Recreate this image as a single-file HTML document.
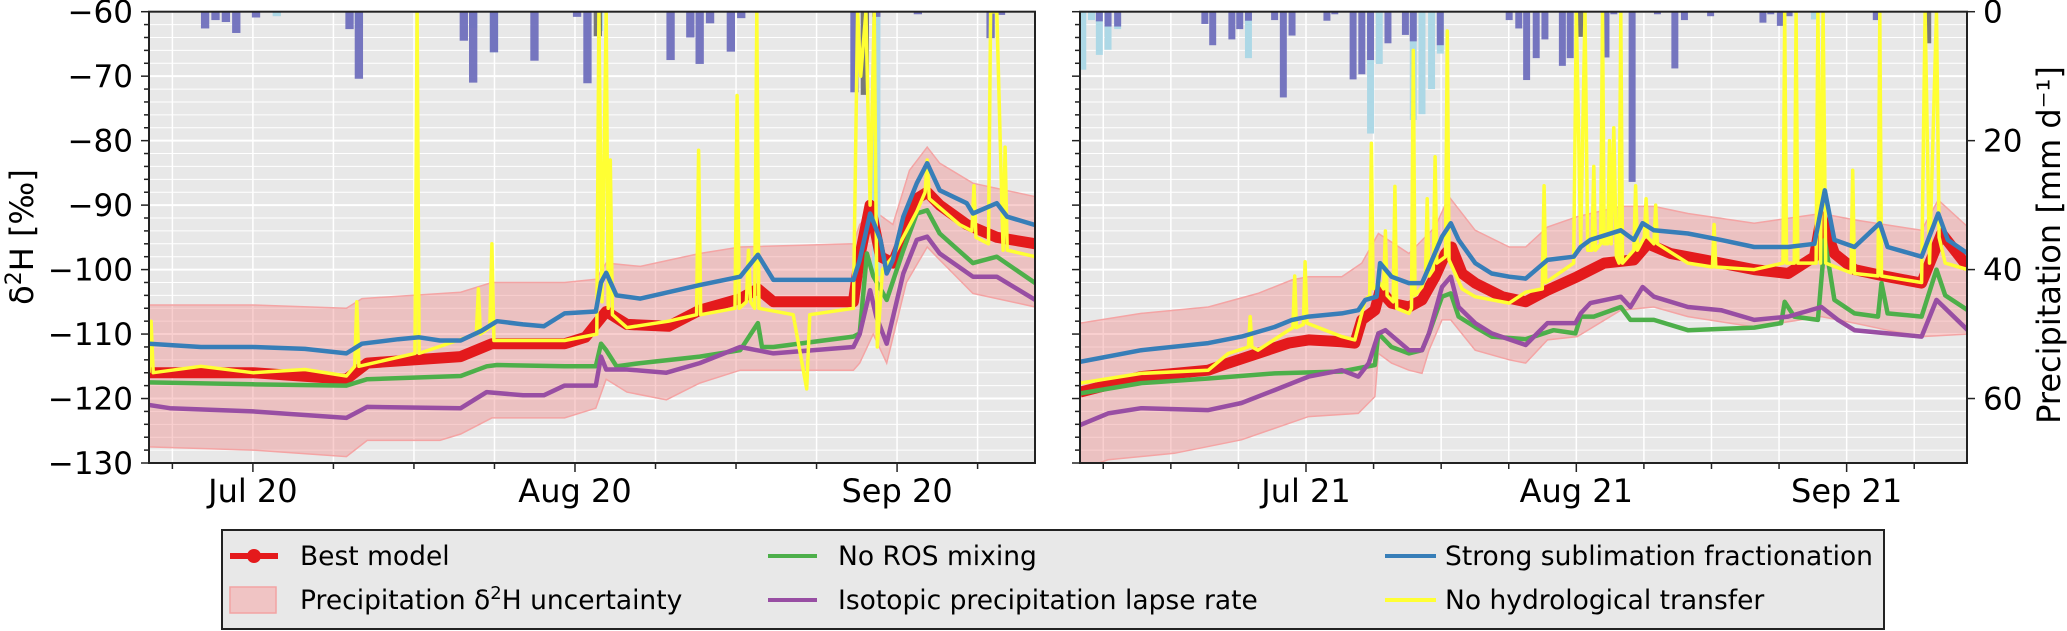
<!DOCTYPE html>
<html><head><meta charset="utf-8">
<style>
html,body{margin:0;padding:0;background:#fff;}
svg{display:block;font-family:"DejaVu Sans","Liberation Sans",sans-serif;}
</style></head>
<body>
<svg id="chart" xmlns="http://www.w3.org/2000/svg" width="2067" height="631" viewBox="0 0 2067 631">
<defs>
<clipPath id="clipL"><rect x="149" y="11.7" width="886" height="451.3"/></clipPath>
<clipPath id="clipR"><rect x="1080" y="11.7" width="887" height="451.3"/></clipPath>
</defs>
<g id="panelL"></g>
<g id="panelR"></g>
<text transform="translate(33,237) rotate(-90)" text-anchor="middle" font-size="32">δ<tspan baseline-shift="super" font-size="22">2</tspan>H [‰]</text>
<text transform="translate(2060,245) rotate(-90)" text-anchor="middle" font-size="32">Precipitation [mm d⁻¹]</text>
<g>
<rect x="222" y="530" width="1662" height="99" fill="#e8e8e8" stroke="#222" stroke-width="2"/>
<g>
<line x1="230" y1="556" x2="278" y2="556" stroke="#e41a1c" stroke-width="6"/><circle cx="254" cy="556" r="7" fill="#e41a1c"/>
<text x="300" y="565" font-size="26.5">Best model</text></g>
<g>
<rect x="230" y="587" width="46" height="26" fill="#f0c4c4" stroke="#f2a3a3" stroke-width="1.5"/>
<text x="300" y="609" font-size="26.5">Precipitation δ<tspan baseline-shift="super" font-size="18">2</tspan>H uncertainty</text></g>
<g>
<line x1="768" y1="556" x2="817" y2="556" stroke="#4daf4a" stroke-width="4"/>
<text x="838" y="565" font-size="26.5">No ROS mixing</text></g>
<g>
<line x1="768" y1="600" x2="817" y2="600" stroke="#984ea3" stroke-width="4"/>
<text x="838" y="609" font-size="26.5">Isotopic precipitation lapse rate</text></g>
<g>
<line x1="1385" y1="556" x2="1436" y2="556" stroke="#377eb8" stroke-width="4"/>
<text x="1445" y="565" font-size="26.5">Strong sublimation fractionation</text></g>
<g>
<line x1="1385" y1="600" x2="1436" y2="600" stroke="#ffff33" stroke-width="4"/>
<text x="1445" y="609" font-size="26.5">No hydrological transfer</text></g>
</g>
</svg>
<script>
// ---- data: left panel (days since 2020-06-21), values in permil ----
const yTicks = [-60,-70,-80,-90,-100,-110,-120,-130];
const pTicks = [0,20,40,60];
const leftMonthDays = [10,41,72];
const leftMonthLabels = ["Jul 20","Aug 20","Sep 20"];
const rightMonthDays = [30,61,92];
const rightMonthLabels = ["Jul 21","Aug 21","Sep 21"];

const leftUpper = [[0,-105.5],[10,-105.5],[19,-106],[20.5,-104.5],[30,-103.5],[33,-102],[40,-102],[43,-101.5],[44,-99],[47.3,-99.5],[53,-97.5],[56.9,-96.5],[67.8,-96],[68.4,-93],[69.7,-90.8],[71.6,-93],[73.2,-84.6],[74.9,-81],[76.1,-83.5],[79.3,-86.6],[85.3,-88.7]];
const leftLower = [[0,-127.5],[10,-128],[19,-129],[21,-126.5],[28,-126.5],[30,-125.5],[33,-123],[40,-123],[43,-121.5],[44,-117],[46,-119],[49.8,-120.2],[53,-117.6],[56.9,-115.6],[67.8,-115.6],[68.4,-114.5],[69.7,-110],[71,-114.5],[72.9,-102],[74.9,-96.5],[76.1,-98.5],[79.3,-103.7],[85.3,-105.8]];
const leftBest = [[0,-116],[10,-116],[19,-117],[21,-114.5],[30,-113.5],[33,-111.5],[40,-111.5],[42,-110.5],[44,-106.5],[46,-108.5],[50,-108.8],[53,-106.3],[56.9,-104.5],[58.6,-103],[60.1,-105],[67.8,-105],[68.4,-98],[69.4,-90],[70.4,-98],[71.6,-99],[72.6,-95],[73.9,-89],[74.9,-88],[76.1,-90],[78.7,-93],[81.6,-95],[85.3,-96]];
const leftNoRos = [[0,-117.5],[10,-117.8],[19,-118],[21,-117],[30,-116.5],[32.5,-115],[33.5,-114.8],[40,-115],[43,-115],[43.5,-111.5],[44,-112.5],[45,-115],[47.3,-114.5],[53,-113.5],[56.9,-112.5],[58.6,-108.3],[59,-112],[60.1,-112],[67.8,-110.4],[68.4,-109.9],[69.1,-97.5],[69.7,-101],[71,-104.7],[72.6,-97],[73.9,-91.3],[74.9,-90.8],[76.1,-94.4],[79.3,-99],[81.6,-98],[85.3,-102.1]];
const leftLapse = [[0,-121],[2,-121.5],[10,-122],[19,-123],[21,-121.3],[30,-121.5],[32.5,-119],[36,-119.5],[38,-119.5],[40,-118],[43,-118],[43.5,-113.5],[44,-115.5],[46,-115.5],[49.8,-116],[53,-114.5],[56.9,-112],[60.1,-113],[67.8,-112],[68.4,-110],[69.4,-103.2],[70,-107.3],[71,-111.5],[72.6,-100.6],[73.9,-95.4],[74.9,-94.9],[76.1,-97.5],[79.3,-101.1],[81.6,-101.1],[85.3,-104.7]];
const leftSublim = [[0,-111.5],[5,-112],[10,-112],[15,-112.3],[19,-113],[20.5,-111.5],[24,-110.8],[26,-110.5],[28,-111],[30,-111],[32,-109.5],[33.5,-108],[36,-108.5],[38,-108.8],[40,-106.8],[43,-106.5],[43.5,-102],[44,-100.5],[45,-104],[47.3,-104.5],[53,-102.4],[56.9,-101.1],[58.6,-97.7],[60.1,-101.6],[67.8,-101.6],[68.4,-98.5],[69.4,-91.3],[70.4,-95.4],[71,-100.6],[71.6,-98.5],[72.6,-91.8],[73.9,-86.6],[74.9,-83.5],[76.1,-87.7],[78.7,-89.7],[79.3,-91.3],[81.6,-89.7],[82.6,-91.8],[85.3,-93.1]];
const leftNoTransfer = [[0,-116],[0.2,-108],[0.4,-116],[5,-115],[10,-116],[15,-115.5],[19,-116.5],[19.8,-115],[20,-105],[20.2,-115],[25.6,-113],[25.8,-60],[26,-113],[31.5,-110],[31.7,-103],[31.9,-110],[32.8,-109],[33,-96],[33.2,-111],[40,-111],[43.1,-110],[43.3,-60],[43.6,-105],[44,-60],[44.2,-106],[44.4,-83],[44.6,-107],[46,-109],[50,-108],[52.7,-107],[52.9,-81.5],[53.1,-107],[56.4,-106],[56.6,-73],[56.8,-106],[57.5,-105],[57.7,-97],[57.9,-105],[58.3,-106],[58.5,-60],[58.7,-106],[62,-107],[63.3,-118.5],[63.6,-107],[67.8,-106],[68.2,-60],[68.5,-70],[69,-60],[69.4,-90],[69.8,-60],[70.1,-112],[70.6,-100],[71.6,-98],[73.9,-91],[74.7,-88],[74.9,-83],[75.1,-89],[78,-93],[79.2,-94],[79.4,-87],[79.6,-95],[80.8,-96],[81,-60],[81.6,-60],[82.2,-97],[82.4,-81],[82.6,-97],[85.3,-98]];
const leftPrecip = [[5.4,2.6],[6.4,1.3],[7.4,1.6],[8.4,3.3],[10.3,0.9],[19.3,2.7],[20.2,10.4],[30.3,4.5],[31.2,11],[33.2,6.3],[37.1,7.6],[41.2,0.8],[42.2,11.1],[50.2,7.5],[52.1,4],[53,8.1],[54,1.8],[56,6.2],[57,1],[67.9,12.5],[70,0.8],[74,0.4],[81,4.1],[82,0.5]];
const leftSnow = [[12.3,0.7],[20.2,2.5],[31.2,2.5],[33.2,6.3],[43.3,3],[70,41]];
const leftMixed = [[43.2,3.8],[68.9,12.9]];

// ---- data: right panel (days since 2021-06-01) ----
const rightUpper = [[4.1,-108.3],[11.1,-106.8],[18.8,-105.8],[24.5,-103.7],[28.4,-101.6],[30.3,-101.1],[34.1,-101.1],[36.4,-99],[38.3,-94.4],[41.8,-97.5],[44.8,-93.4],[46.4,-88.7],[49.4,-93.9],[53.3,-96.5],[55.2,-96.5],[57.7,-93.4],[61.1,-91.8],[66.1,-90.2],[69.9,-90.2],[73.8,-91.3],[81.4,-92.8],[89.1,-91.3],[92.9,-92.3],[100.6,-93.9],[102.5,-89.2],[105.9,-93.4]];
const rightLower = [[4.1,-131],[7.3,-129.5],[14.9,-128.5],[22.6,-126.4],[30.3,-122.8],[36,-122.3],[37.9,-119.7],[38.3,-113],[39.8,-114.5],[41.8,-115.6],[43.3,-116.1],[44.1,-112.5],[45.6,-107.8],[46.6,-107.8],[49.4,-112.5],[53.3,-114],[55.2,-114.5],[57.7,-110.9],[61.1,-110.4],[66.1,-106.3],[69.9,-105.8],[73.8,-107.3],[81.4,-108.9],[89.1,-107.3],[92.9,-108.3],[96.7,-109.4],[100.6,-110.4],[105.9,-110]];
const rightBest = [[4.1,-119],[11.1,-116.6],[18.8,-115.6],[21.1,-114.5],[24.5,-113],[28,-111.4],[30.3,-110.9],[34.1,-111.2],[35.6,-111.4],[36.4,-107.8],[37.9,-106.3],[38.5,-103.2],[39.8,-105.2],[41.8,-105.8],[43.3,-104.7],[44.8,-101.1],[46,-97.5],[46.7,-96.5],[47.9,-100.6],[49.4,-102.1],[52.5,-104.2],[55.2,-105],[57.7,-103.2],[61.1,-101.1],[64.2,-99],[67.6,-98.5],[69.2,-96],[71.8,-97.5],[75.7,-98.5],[81.4,-100],[85.3,-100.6],[88.3,-98],[89.1,-91.8],[90.6,-97.5],[92.9,-100],[96.7,-101.1],[100.6,-102.1],[102.9,-94.4],[105.9,-99.6]];
const rightNoRos = [[4.1,-119.2],[11.1,-117.6],[18.8,-116.9],[26.4,-116.1],[34.1,-115.8],[37.9,-114.8],[38.3,-109.9],[39.8,-112],[41.8,-113],[43.3,-112.5],[44.1,-109.9],[45.6,-104.2],[46.6,-103.7],[47.5,-107.3],[49.4,-108.9],[51.3,-110.4],[55.2,-110.8],[58.4,-109.4],[60.9,-109.9],[61.5,-107.3],[63,-107.3],[66.1,-105.8],[67.2,-107.8],[69.9,-107.8],[73.8,-109.4],[77.6,-109.2],[81.4,-109],[84.5,-108.3],[84.9,-105],[86,-107.3],[88.7,-107.8],[89.5,-95.4],[90.6,-104.7],[92.9,-106.8],[95.6,-107.3],[96,-102.1],[96.7,-106.8],[100.6,-107.3],[102.3,-100],[103.3,-104],[105.9,-106.3]];
const rightLapse = [[4.1,-124.1],[7.3,-122.3],[11.1,-121.5],[18.8,-121.8],[22.6,-120.7],[26.4,-118.7],[30.3,-116.6],[34.1,-115.6],[36,-116.6],[37.2,-114.5],[38.3,-109.9],[39.1,-109.4],[41.8,-112.5],[43.3,-112.5],[44.1,-109.9],[45.6,-102.7],[46.6,-101.1],[47.5,-105.8],[49.4,-108.3],[51.3,-109.9],[55.2,-111.7],[57.7,-108.3],[60.9,-108.3],[61.5,-106.8],[62.6,-105.2],[66.1,-104.2],[67.2,-105.8],[68.6,-102.7],[69.9,-104.2],[73.8,-105.8],[77.6,-106.3],[81.4,-107.8],[85.3,-107.3],[89.1,-105.8],[91,-107.8],[92.9,-109.4],[96.7,-109.9],[100.6,-110.4],[102.3,-104.7],[105.9,-109.4]];
const rightSublim = [[4.1,-114.3],[11.1,-112.5],[18.8,-111.4],[22.6,-110.4],[26.4,-108.9],[28.4,-107.8],[30.3,-107.3],[34.1,-106.8],[36,-106.3],[36.8,-104.7],[38.1,-104.2],[38.5,-99],[39.8,-101.1],[41.8,-102.1],[43.3,-102.1],[44.1,-99.6],[45.6,-94.9],[46.6,-92.8],[47.5,-95.4],[49.4,-99],[51.3,-100.6],[53.3,-101.1],[55.2,-101.4],[57.7,-98.5],[60.7,-98],[61.5,-96.5],[62.6,-95.4],[66.1,-93.9],[67.6,-95.4],[68.6,-92.8],[69.9,-93.9],[73.8,-94.4],[77.6,-95.4],[81.4,-96.5],[85.3,-96.5],[88.3,-96],[89.5,-87.7],[90.6,-95.4],[92.9,-96.5],[95.8,-92.8],[96.7,-96.5],[100.6,-98],[102.5,-91.3],[103.6,-95.4],[105.9,-97.5]];
const rightNoTransfer = [[4.1,-117.6],[11.1,-116.1],[18.8,-115.6],[21.1,-113],[23.4,-112],[23.6,-107.3],[23.8,-112],[24.5,-112.5],[28,-109.4],[28.5,-109],[28.7,-101],[28.9,-109],[29.7,-108.5],[29.9,-98.8],[30.1,-108.3],[34.1,-110.4],[35.6,-110.9],[36.8,-104.7],[37.3,-104],[37.5,-80.4],[37.7,-103],[38.5,-102.1],[38.9,-103],[39.1,-94],[39.3,-104],[40,-105],[40.2,-87.1],[40.4,-106],[41.8,-106.8],[42.1,-106],[42.3,-66],[42.5,-104],[43.3,-102.7],[43.7,-101],[43.9,-89],[44.1,-101],[44.6,-100],[44.8,-82.5],[45,-99],[46,-98],[46.2,-63],[46.4,-98.5],[47.9,-103],[49.4,-104.2],[53.3,-105.2],[55.2,-103.5],[57.1,-103],[57.3,-87],[57.5,-102],[60.7,-99],[61,-60],[61.5,-96],[62,-60],[62.3,-97],[62.8,-97],[63,-84],[63.2,-97],[63.8,-96],[64,-60],[64.2,-96],[64.6,-96],[64.8,-80],[65,-96],[65.3,-78],[65.6,-98],[65.9,-99],[66.1,-60],[66.3,-99],[67.6,-97],[67.8,-87],[68,-97],[68.8,-95],[69,-89],[69.2,-95],[69.9,-96],[70.1,-90],[70.3,-96],[73.8,-99],[76.6,-99.6],[76.8,-93],[77,-99.6],[81.4,-100],[84.7,-99],[84.9,-60],[85.1,-99],[86,-99],[86.2,-60],[86.4,-99],[88.5,-99],[88.7,-60],[89,-99],[89.3,-60],[89.6,-99],[92.5,-100.5],[92.7,-84.6],[92.9,-100.6],[95.6,-101],[95.8,-60],[96,-101],[100.6,-102],[101,-60],[101.5,-99],[102.3,-60],[102.6,-95],[103.3,-99],[105.9,-100]];
const rightPrecip = [[6.3,1.5],[7.3,2.3],[8.4,2.3],[18.4,1.9],[19.3,5.2],[21.5,4.3],[22.4,2.7],[23.4,1.4],[26.4,1.3],[27.4,13.3],[28.4,3.7],[32.4,1.4],[33.3,0.4],[35.4,10.5],[36.4,9.7],[37.4,7.5],[39.4,4.9],[41.4,3.6],[42.3,4.6],[45.4,5.2],[53.3,1.3],[54.4,2.6],[55.3,10.6],[56.4,7.2],[57.4,4.3],[59.4,8.4],[60.3,7.2],[64.4,7.1],[65.3,0.4],[67.4,26.4],[70.3,0.4],[72.3,8.8],[73.4,1.3],[76.4,0.7],[82.4,1.7],[83.3,0.4],[84.4,2.2],[85.4,0.7],[95.4,1.3]];
const rightSnow = [[4.4,9],[5.4,1.3],[6.3,6.7],[7.3,5.9],[8.4,2.7],[23.4,7.2],[37.4,18.9],[38.4,8.1],[42.3,16.8],[43.3,15.9],[44.4,12],[45.4,6.5],[88.3,1.2]];
const rightMixed = [[61.4,3.9],[101.3,4.9]];

// ---- axes ----
const Y0 = 11.7, Y1 = 463;
function yV(v){ return Y0 + (-60 - v) * (Y1 - Y0) / 70; }
function yP(mm){ return Y0 + mm * (Y1 - Y0) / 70; }
function xL(d){ return 149 + d * 10.39; }
function xR(d){ return 1306 + (d - 30) * 8.72; }
const NS = "http://www.w3.org/2000/svg";
function mk(tag, attrs, parent){
  const e = document.createElementNS(NS, tag);
  for (const k in attrs) e.setAttribute(k, attrs[k]);
  parent.appendChild(e);
  return e;
}
function pts(arr, xf){ return arr.map(p => xf(p[0]).toFixed(1) + "," + yV(p[1]).toFixed(1)).join(" "); }

function drawPanel(g, xf, x0, x1, clip, data, monthDays, monthLabels, showYLabels, showPrecipAxis){
  const bg = mk("rect", {x:x0, y:Y0, width:x1-x0, height:Y1-Y0, fill:"#e8e8e8"}, g);
  
  
  const grid = mk("g", {}, g);
  
  
  for (let v = -60; v >= -130; v -= 2){
    mk("line", {x1:x0, x2:x1, y1:yV(v), y2:yV(v), stroke:"#fff", "stroke-width": (v % 10 === 0) ? 2 : 1}, grid);
  }
  const vticks = [];
  monthDays.forEach(md => { vticks.push([md, true]); for (let k = 1; k <= 3; k++) vticks.push([md + k * 7.75, false]); });
  for (let k = 1; k <= 3; k++) vticks.push([monthDays[0] - k * 7.75, false]);
  vticks.forEach(t => {
    const x = xf(t[0]);
    if (x > x0 && x < x1) {
      mk("line", {x1:x, x2:x, y1:Y0, y2:Y1, stroke:"#fff", "stroke-width":1.5}, grid);
      mk("line", {x1:x, x2:x, y1:Y1, y2:Y1 + (t[1] ? 9 : 6), stroke:"#222", "stroke-width":1.5}, g);
    }
  });
  const plot = mk("g", {"clip-path":"url(#" + clip + ")"}, g);
  const band = mk("polygon", {points: pts(data.upper, xf) + " " + pts(data.lower.slice().reverse(), xf), fill:"rgba(240,128,128,0.38)", stroke:"#f4a4a4", "stroke-width":1.5}, plot);
  
  
  const bars = mk("g", {}, plot);
  
  
  const bw = (xf(1) - xf(0)) * 0.8;
  data.snow.forEach(b => {
    const r = mk("rect", {x:xf(b[0]) - bw/2, y:Y0, width:bw, height:yP(b[1]) - Y0, fill:"#add8e6"}, bars);
    
    
  });
  data.precip.forEach(b => {
    const r = mk("rect", {x:xf(b[0]) - bw/2, y:Y0, width:bw, height:yP(b[1]) - Y0, fill:"#6f6fbd", "fill-opacity":0.95}, bars);
    
    
  });
  data.mixed.forEach(b => {
    const r = mk("rect", {x:xf(b[0]) - bw/2, y:Y0, width:bw, height:yP(b[1]) - Y0, fill:"#77777a"}, bars);
    
    
  });
  const series = [
    [data.best, "#e41a1c", 11, 'best-model-line'],
    [data.noRos, "#4daf4a", 4.5, 'no-ros-mixing-line'],
    [data.lapse, "#984ea3", 4.5, 'lapse-rate-line'],
    [data.noTransfer, "#ffff33", 3.5, 'no-hydrological-transfer-line'],
    [data.sublim, "#377eb8", 4.5, 'strong-sublimation-line']
  ];
  series.forEach(s => {
    const l = mk("polyline", {points: pts(s[0], xf), fill:"none", stroke:s[1], "stroke-width":s[2], "stroke-linejoin":"round"}, plot);
    
    
  });
  const frame = mk("rect", {x:x0, y:Y0, width:x1-x0, height:Y1-Y0, fill:"none", stroke:"#222", "stroke-width":2}, g);
  
  
  for (let v = -60; v >= -130; v -= 2){
    const maj = v % 10 === 0;
    mk("line", {x1:x0 - (maj ? 8 : 5), x2:x0, y1:yV(v), y2:yV(v), stroke:"#222", "stroke-width":1.5}, g);
  }
  if (showYLabels){
    yTicks.forEach(v => {
      const t = mk("text", {x:x0 - 16, y:yV(v) + 11, "text-anchor":"end", "font-size":31}, g);
      t.textContent = "\u2212" + Math.abs(v);
      
      
    });
  }
  if (showPrecipAxis){
    pTicks.forEach(p => {
      mk("line", {x1:x1, x2:x1 + 8, y1:yP(p), y2:yP(p), stroke:"#222", "stroke-width":1.5}, g);
      const t = mk("text", {x:x1 + 16, y:yP(p) + 11, "font-size":31}, g);
      t.textContent = String(p);
      
      
    });
  }
  monthDays.forEach((md, i) => {
    const t = mk("text", {x:xf(md), y:502, "text-anchor":"middle", "font-size":32}, g);
    t.textContent = monthLabels[i];
    
    
  });
}

drawPanel(document.getElementById("panelL"), xL, 149, 1035, "clipL",
  {upper:leftUpper, lower:leftLower, best:leftBest, noRos:leftNoRos, lapse:leftLapse, sublim:leftSublim, noTransfer:leftNoTransfer, precip:leftPrecip, snow:leftSnow, mixed:leftMixed},
  leftMonthDays, leftMonthLabels, true, false);
drawPanel(document.getElementById("panelR"), xR, 1080, 1967, "clipR",
  {upper:rightUpper, lower:rightLower, best:rightBest, noRos:rightNoRos, lapse:rightLapse, sublim:rightSublim, noTransfer:rightNoTransfer, precip:rightPrecip, snow:rightSnow, mixed:rightMixed},
  rightMonthDays, rightMonthLabels, false, true);
</script>
</body></html>
